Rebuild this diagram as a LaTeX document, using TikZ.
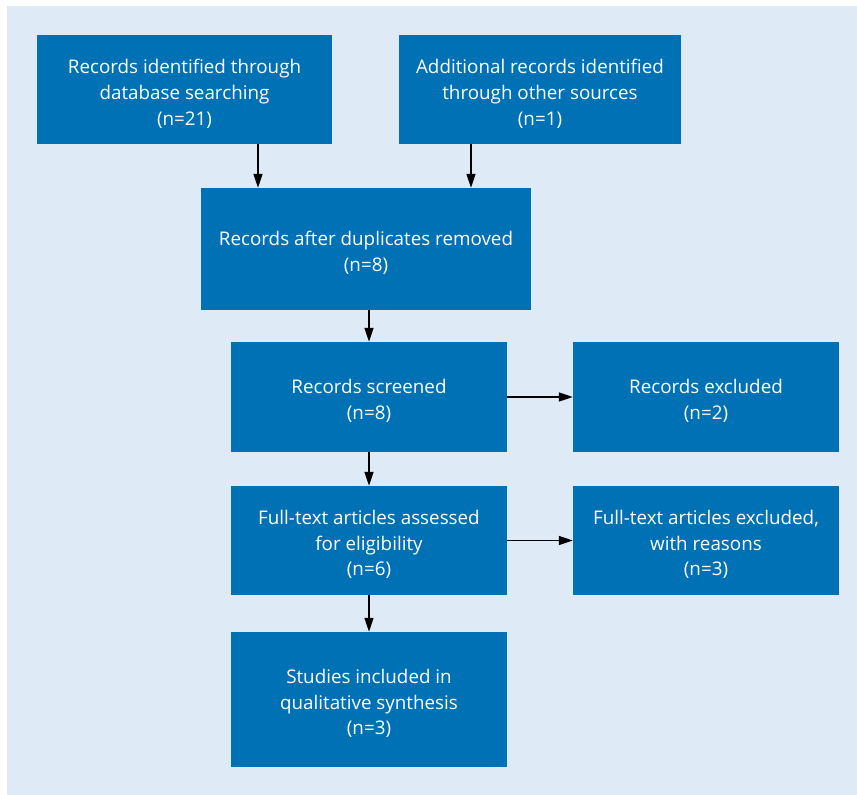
\documentclass[tikz,border=0pt]{standalone}
\usepackage{fontspec}
\setmainfont{Open Sans}
\usetikzlibrary{arrows.meta}
\definecolor{bgblue}{HTML}{DEEBF7}
\definecolor{boxblue}{HTML}{0071B5}
\begin{document}
\begin{tikzpicture}[x=1pt,y=-1pt,
  flowbox/.style={fill=boxblue, draw=none, text=white, align=center, inner sep=0pt,
    font=\fontsize{18.8}{25.8}\selectfont},
  flowtext/.style={text=white, align=center, inner sep=0pt,
    font=\fontsize{18.8}{25.8}\selectfont, yshift=-4pt},
  flowarrow/.style={-{Triangle[length=14pt,width=9pt]}, line width=1.6pt, black}]
\useasboundingbox (0,0) rectangle (857,795);
\fill[bgblue] (7,6) rectangle (857,795);
\node[flowbox, minimum width=295pt, minimum height=109pt] (b1) at (184.5,89.5) {};
\node[flowtext] (t1) at (b1.center) {Records identified through\\database searching\\(n=21)};
\node[flowbox, minimum width=282pt, minimum height=109pt] (b2) at (540,89.5) {};
\node[flowtext] (t2) at (b2.center) {Additional records identified\\through other sources\\(n=1)};
\node[flowbox, minimum width=330pt, minimum height=122pt] (b3) at (366,249) {};
\node[flowtext] (t3) at (b3.center) {Records after duplicates removed\\(n=8)};
\node[flowbox, minimum width=276pt, minimum height=110pt] (b4) at (369,397) {};
\node[flowtext] (t4) at (b4.center) {Records screened\\(n=8)};
\node[flowbox, minimum width=266pt, minimum height=110pt] (b5) at (706,397) {};
\node[flowtext] (t5) at (b5.center) {Records excluded\\(n=2)};
\node[flowbox, minimum width=276pt, minimum height=109pt] (b6) at (369,540.5) {};
\node[flowtext] (t6) at (b6.center) {Full-text articles assessed\\for eligibility\\(n=6)};
\node[flowbox, minimum width=266pt, minimum height=109pt] (b7) at (706,540.5) {};
\node[flowtext] (t7) at (b7.center) {Full-text articles excluded,\\with reasons\\(n=3)};
\node[flowbox, minimum width=276pt, minimum height=135pt] (b8) at (369,699.5) {};
\node[flowtext] (t8) at (b8.center) {Studies included in\\qualitative synthesis\\(n=3)};
\draw[flowarrow] (b1.south -| 258,0) -- (b3.north -| 258,0);
\draw[flowarrow] (b2.south -| 471,0) -- (b3.north -| 471,0);
\draw[flowarrow] (b3.south -| b4.north) -- (b4.north);
\draw[flowarrow] (b4.south) -- (b6.north);
\draw[flowarrow] (b6.south) -- (b8.north);
\draw[flowarrow] (b4.east) -- (b5.west);
\draw[flowarrow] (b6.east) -- (b7.west);
\end{tikzpicture}
\end{document}
